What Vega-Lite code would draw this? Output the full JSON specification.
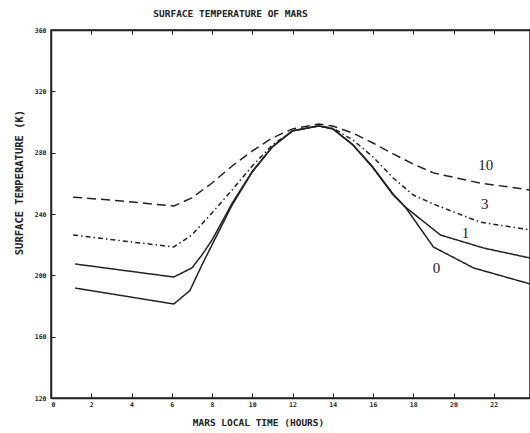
{
  "$schema": "https://vega.github.io/schema/vega-lite/v6.json",
  "width": 479,
  "height": 368,
  "autosize": {"type": "none"},
  "padding": {"left": 51, "top": 30, "right": 0, "bottom": 35},
  "background": "white",
  "title": {"text": "SURFACE TEMPERATURE OF MARS", "font": "DejaVu Sans Mono", "fontSize": 9.5, "fontWeight": "bold", "color": "#222", "anchor": "start", "dx": 139, "offset": 9},
  "config": {
    "view": {"stroke": "#222", "strokeWidth": 1.5},
    "axis": {"domainColor": "#222", "domainWidth": 1.5, "tickColor": "#222", "tickWidth": 1, "grid": false, "labelFont": "DejaVu Sans Mono", "labelFontWeight": "bold", "labelFontSize": 6.5, "labelColor": "#222", "titleFont": "DejaVu Sans Mono", "titleFontSize": 9.5, "titleFontWeight": "bold", "titleColor": "#222"}
  },
  "datasets": {
    "curves": [
      {"series": "0", "hour": 1.2, "temp": 191.7},
      {"series": "0", "hour": 6.1, "temp": 181.3},
      {"series": "0", "hour": 6.9, "temp": 190},
      {"series": "0", "hour": 7.5, "temp": 206.8},
      {"series": "0", "hour": 8, "temp": 219.8},
      {"series": "0", "hour": 9, "temp": 245.9},
      {"series": "0", "hour": 10, "temp": 267.4},
      {"series": "0", "hour": 11, "temp": 283.7},
      {"series": "0", "hour": 12, "temp": 294.2},
      {"series": "0", "hour": 13.3, "temp": 297.4},
      {"series": "0", "hour": 14, "temp": 295.5},
      {"series": "0", "hour": 15, "temp": 285},
      {"series": "0", "hour": 16, "temp": 270},
      {"series": "0", "hour": 17, "temp": 252.4},
      {"series": "0", "hour": 17.6, "temp": 244.6},
      {"series": "0", "hour": 19, "temp": 218.5},
      {"series": "0", "hour": 21, "temp": 204.8},
      {"series": "0", "hour": 23.8, "temp": 194.4},
      {"series": "1", "hour": 1.2, "temp": 207.4},
      {"series": "1", "hour": 6.1, "temp": 198.9},
      {"series": "1", "hour": 7, "temp": 204.8},
      {"series": "1", "hour": 7.5, "temp": 213.3},
      {"series": "1", "hour": 8, "temp": 223},
      {"series": "1", "hour": 9, "temp": 247},
      {"series": "1", "hour": 10, "temp": 267.8},
      {"series": "1", "hour": 11, "temp": 283.9},
      {"series": "1", "hour": 12, "temp": 294.3},
      {"series": "1", "hour": 13.3, "temp": 297.4},
      {"series": "1", "hour": 14, "temp": 295.6},
      {"series": "1", "hour": 15, "temp": 285.3},
      {"series": "1", "hour": 16, "temp": 270.5},
      {"series": "1", "hour": 17, "temp": 253},
      {"series": "1", "hour": 17.6, "temp": 244.6},
      {"series": "1", "hour": 19.35, "temp": 226.3},
      {"series": "1", "hour": 21.5, "temp": 217.8},
      {"series": "1", "hour": 23.8, "temp": 211.3},
      {"series": "3", "hour": 1.1, "temp": 226.3},
      {"series": "3", "hour": 6.1, "temp": 218.5},
      {"series": "3", "hour": 7, "temp": 226.3},
      {"series": "3", "hour": 8, "temp": 240.7},
      {"series": "3", "hour": 9, "temp": 255.7},
      {"series": "3", "hour": 10, "temp": 271.3},
      {"series": "3", "hour": 11, "temp": 285},
      {"series": "3", "hour": 12, "temp": 294.2},
      {"series": "3", "hour": 13.3, "temp": 297.5},
      {"series": "3", "hour": 14, "temp": 296},
      {"series": "3", "hour": 15, "temp": 288.3},
      {"series": "3", "hour": 16, "temp": 277.2},
      {"series": "3", "hour": 17, "temp": 263.5},
      {"series": "3", "hour": 18, "temp": 252.4},
      {"series": "3", "hour": 19, "temp": 246.5},
      {"series": "3", "hour": 21.3, "temp": 234.8},
      {"series": "3", "hour": 23.8, "temp": 229.6},
      {"series": "10", "hour": 1.1, "temp": 251},
      {"series": "10", "hour": 3.5, "temp": 248.5},
      {"series": "10", "hour": 6.1, "temp": 245.2},
      {"series": "10", "hour": 7, "temp": 250.5},
      {"series": "10", "hour": 8, "temp": 260.2},
      {"series": "10", "hour": 9, "temp": 271.3},
      {"series": "10", "hour": 10, "temp": 281.1},
      {"series": "10", "hour": 11, "temp": 289.6},
      {"series": "10", "hour": 12, "temp": 295.5},
      {"series": "10", "hour": 13.3, "temp": 298.7},
      {"series": "10", "hour": 14, "temp": 297.4},
      {"series": "10", "hour": 15, "temp": 292.8},
      {"series": "10", "hour": 16, "temp": 286.3},
      {"series": "10", "hour": 17, "temp": 279.2},
      {"series": "10", "hour": 18, "temp": 272.6},
      {"series": "10", "hour": 19, "temp": 266.8},
      {"series": "10", "hour": 21.3, "temp": 260.2},
      {"series": "10", "hour": 23.8, "temp": 255.7}
    ],
    "labels": [
      {"label": "10", "hour": 21.6, "temp": 272},
      {"label": "3", "hour": 21.55, "temp": 246.5},
      {"label": "1", "hour": 20.6, "temp": 227.6},
      {"label": "0", "hour": 19.15, "temp": 204.8}
    ]
  },
  "layer": [
    {
      "data": {"name": "curves"},
      "mark": {"type": "line", "color": "#222", "strokeWidth": 1.5, "clip": true},
      "encoding": {
        "x": {"field": "hour", "type": "quantitative", "scale": {"domain": [0, 23.8], "nice": false},
          "axis": {"orient": "bottom", "values": [0, 2, 4, 6, 8, 10, 12, 14, 16, 18, 20, 22], "tickSize": -5, "labelPadding": 8, "title": "MARS LOCAL TIME (HOURS)", "titlePadding": 10, "titleX": 207}},
        "y": {"field": "temp", "type": "quantitative", "scale": {"domain": [120, 360], "nice": false},
          "axis": {"values": [120, 160, 200, 240, 280, 320, 360], "tickSize": -4, "labelPadding": 9, "title": "SURFACE TEMPERATURE (K)", "titleFontSize": 10.5, "titlePadding": 10, "titleY": 152}},
        "detail": {"field": "series"},
        "strokeDash": {"field": "series", "type": "nominal", "legend": null,
          "scale": {"domain": ["0", "1", "3", "10"], "range": [[1, 0], [1, 0], [5, 3, 1.5, 3], [9, 5]]}}
      }
    },
    {
      "data": {"name": "labels"},
      "mark": {"type": "text", "font": "Liberation Serif", "fontSize": 15, "color": "#222"},
      "encoding": {
        "x": {"field": "hour", "type": "quantitative",
          "axis": {"orient": "top", "values": [0, 2, 4, 6, 8, 10, 12, 14, 16, 18, 20, 22], "tickSize": -4, "labels": false, "title": null, "domainWidth": 1.5}},
        "y": {"field": "temp", "type": "quantitative"},
        "text": {"field": "label"}
      }
    }
  ]
}
